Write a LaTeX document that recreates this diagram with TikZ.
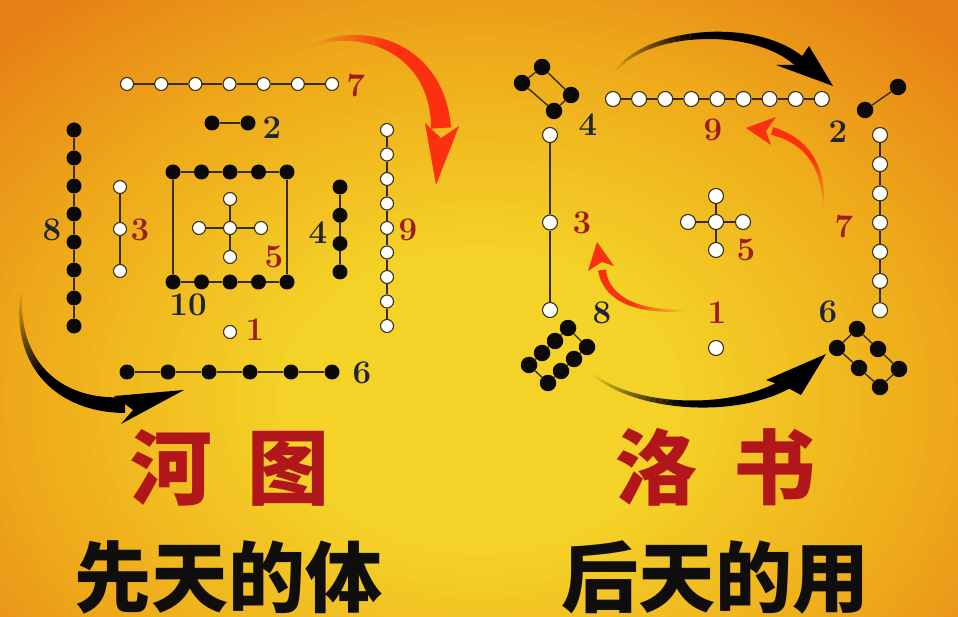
\documentclass[tikz,border=0pt]{standalone}
\usepackage{fontspec}
\newfontfamily\cjk{Noto Sans CJK SC}
\usetikzlibrary{calc}
\definecolor{bgY}{RGB}{244,210,40}
\definecolor{bgO}{RGB}{238,168,26}
\definecolor{bgD}{RGB}{230,128,22}
\definecolor{dotedge}{RGB}{60,48,20}
\definecolor{dotblack}{RGB}{12,10,8}
\definecolor{lnkc}{RGB}{55,45,20}
\definecolor{numred}{RGB}{158,28,32}
\definecolor{numdark}{RGB}{30,36,50}
\definecolor{arrred}{RGB}{250,48,16}
\definecolor{titlered}{RGB}{176,22,26}
\definecolor{titleblack}{RGB}{16,14,12}
\tikzset{
  wA/.style={circle,fill=white,draw=dotedge,line width=1.1pt,minimum size=13pt,inner sep=0pt},
  bA/.style={circle,fill=dotblack,minimum size=15pt,inner sep=0pt},
  wB/.style={wA,minimum size=15pt},
  bB/.style={bA,minimum size=16.5pt},
  lnk/.style={draw=lnkc,line width=1.4pt},
  nR/.style={text=numred,font=\bfseries\fontsize{33}{33}\selectfont,inner sep=0pt},
  nD/.style={nR,text=numdark},
  titleR/.style={text=titlered,font=\cjk\bfseries\fontsize{82}{82}\selectfont,inner sep=0pt},
  titleK/.style={text=titleblack,font=\cjk\bfseries\fontsize{77}{77}\selectfont,inner sep=0pt},
  headfill/.style={fill=#1,draw=none}
}
% tapered, fading arrow body along a cubic curve
\newcommand\tailarrow[6]{%
  \foreach \k [evaluate=\k as \pp using \k/40] in {0,...,40}{%
    \path (#1) .. controls (#2) and (#3) .. (#4) coordinate[pos=\pp] (ta\k);}%
  \foreach \k in {0,...,39}{%
    \pgfmathtruncatemacro\kn{\k+1}%
    \pgfmathsetmacro\hw{(1.5+(#6-1.5)*\k/40)/2}%
    \coordinate (L\k) at ($(ta\k)!\hw pt!90:(ta\kn)$);
    \coordinate (R\k) at ($(ta\k)!\hw pt!-90:(ta\kn)$);}%
  \pgfmathsetmacro\hw{#6/2}%
  \coordinate (L40) at ($(ta40)!\hw pt!-90:(ta39)$);
  \coordinate (R40) at ($(ta40)!\hw pt!90:(ta39)$);
  \foreach \k in {0,...,17}{%
    \pgfmathtruncatemacro\kn{\k+1}%
    \pgfmathsetmacro\op{\k/18}%
    \fill[#5,opacity=\op] (L\k) -- (L\kn) -- (R\kn) -- (R\k) -- cycle;}%
  \fill[#5] (L18) \foreach \k in {19,...,40}{ -- (L\k)} \foreach \k in {40,39,...,18}{ -- (R\k)} -- cycle;
}
\begin{document}
\begin{tikzpicture}[x=1pt,y=-1pt]
\useasboundingbox (0,0) rectangle (958,617);
% background
\begin{scope}
\clip (0,0) rectangle (958,617);
\fill[bgD] (0,0) rectangle (958,617);
\foreach \i in {60,...,1}{%
  \pgfmathsetmacro\f{\i/50}%
  \pgfmathsetmacro\pa{min(100,max(0,(\f-0.7)/0.3*100))}%
  \pgfmathsetmacro\pb{min(100,max(0,(\f-0.3)/0.4*100))}%
  \fill[color=bgD!\pa!bgO!\pb!bgY] (480,400) ellipse [x radius=\f*680, y radius=\f*520];
}
\end{scope}

% ================= HETU (left) =================
% 7 : white row
\foreach \i in {0,...,6} \node[wA] (hs\i) at ({127+\i*34.17},84) {};
\foreach \i [count=\j from 1] in {0,...,5} \draw[lnk] (hs\i) -- (hs\j);
\node[nR] (l7) at (356,86) {7};
% 2
\node[bA] (ht0) at (212,123) {};
\node[bA] (ht1) at (248,123) {};
\draw[lnk] (ht0) -- (ht1);
\node[nD] (l2) at (272,128) {2};
% 8
\foreach \i in {0,...,7} \node[bA] (he\i) at (74,{130+\i*28}) {};
\foreach \i [count=\j from 1] in {0,...,6} \draw[lnk] (he\i) -- (he\j);
\node[nD] (l8) at (52,230) {8};
% 3
\foreach \i in {0,...,2} \node[wA] (hth\i) at (120,{187+\i*42}) {};
\foreach \i [count=\j from 1] in {0,...,1} \draw[lnk] (hth\i) -- (hth\j);
\node[nR] (l3) at (140,230) {3};
% 10 square
\foreach \i in {0,...,4} {
  \node[bA] (hqt\i) at ({173+\i*28.5},172) {};
  \node[bA] (hqb\i) at ({173+\i*28.5},282) {};
}
\foreach \i [count=\j from 1] in {0,...,3} {
  \draw[lnk] (hqt\i) -- (hqt\j);
  \draw[lnk] (hqb\i) -- (hqb\j);
}
\draw[lnk] (hqt0) -- (hqb0);
\draw[lnk] (hqt4) -- (hqb4);
\node[nD] (l10) at (188,305) {10};
% 5 cross
\node[wA] (hc) at (230,228) {};
\node[wA] (hcn) at (230,199) {};
\node[wA] (hcs) at (230,257) {};
\node[wA] (hcw) at (199,228) {};
\node[wA] (hce) at (261,228) {};
\foreach \d in {hcn,hcs,hcw,hce} \draw[lnk] (hc) -- (\d);
\node[nR] (l5) at (274,257) {5};
% 4
\foreach \i in {0,...,3} \node[bA] (hf\i) at (340,{187+\i*28.3}) {};
\foreach \i [count=\j from 1] in {0,...,2} \draw[lnk] (hf\i) -- (hf\j);
\node[nD] (l4) at (318,233) {4};
% 9
\foreach \i in {0,...,8} \node[wA] (hn\i) at (387,{130+\i*24.5}) {};
\foreach \i [count=\j from 1] in {0,...,7} \draw[lnk] (hn\i) -- (hn\j);
\node[nR] (l9) at (408,230) {9};
% 1
\node[wA] (ho) at (230,332) {};
\node[nR] (l1) at (255,330) {1};
% 6
\foreach \i in {0,...,5} \node[bA] (hx\i) at ({127+\i*41},372) {};
\foreach \i [count=\j from 1] in {0,...,4} \draw[lnk] (hx\i) -- (hx\j);
\node[nD] (l6) at (362,373) {6};

% ================= LUOSHU (right) =================
% 9 : white row
\foreach \i in {0,...,8} \node[wB] (ln\i) at ({613+\i*26.1},99) {};
\foreach \i [count=\j from 1] in {0,...,7} \draw[lnk] (ln\i) -- (ln\j);
\node[nR] (m9) at (713,130) {9};
% 2
\node[bB] (lt0) at (865,110) {};
\node[bB] (lt1) at (898,87) {};
\draw[lnk] (lt0) -- (lt1);
\node[nD] (m2) at (838,132) {2};
% 4 quad
\node[bB] (lq1) at (542,67) {};
\node[bB] (lq2) at (522,83) {};
\node[bB] (lq3) at (554,111) {};
\node[bB] (lq4) at (571,95) {};
\draw[lnk] (lq1) -- (lq2);
\draw[lnk] (lq2) -- (lq3);
\draw[lnk] (lq3) -- (lq4);
\draw[lnk] (lq4) -- (lq1);
\node[nD] (m4) at (588,125) {4};
% 3
\foreach \i in {0,...,2} \node[wB] (lth\i) at (550,{135+\i*87.5}) {};
\foreach \i [count=\j from 1] in {0,...,1} \draw[lnk] (lth\i) -- (lth\j);
\node[nR] (m3) at (582,223) {3};
% 7
\foreach \i in {0,...,6} \node[wB] (ls\i) at (880,{135+\i*29.2}) {};
\foreach \i [count=\j from 1] in {0,...,5} \draw[lnk] (ls\i) -- (ls\j);
\node[nR] (m7) at (844,227) {7};
% 5 cross
\node[wB] (lc) at (716,222) {};
\node[wB] (lcn) at (716,196) {};
\node[wB] (lcs) at (716,250) {};
\node[wB] (lcw) at (688,222) {};
\node[wB] (lce) at (743,222) {};
\foreach \d in {lcn,lcs,lcw,lce} \draw[lnk] (lc) -- (\d);
\node[nR] (m5) at (746,250) {5};
% 1
\node[wB] (lo) at (716,348) {};
\node[nR] (m1) at (717,313) {1};
% 8 : two rows of four
\node[bB] (la0) at (568,328) {};
\node[bB] (la1) at (555,341) {};
\node[bB] (la2) at (542,353) {};
\node[bB] (la3) at (529,365) {};
\node[bB] (lb0) at (587,347) {};
\node[bB] (lb1) at (574,359) {};
\node[bB] (lb2) at (561,371) {};
\node[bB] (lb3) at (548,383) {};
\foreach \i [count=\j from 1] in {0,...,2} {
  \draw[lnk] (la\i) -- (la\j);
  \draw[lnk] (lb\i) -- (lb\j);
}
\draw[lnk] (la0) -- (lb0);
\draw[lnk] (la3) -- (lb3);
\node[nD] (m8) at (602,313) {8};
% 6 : two rows of three
\node[bB] (lu0) at (857,329) {};
\node[bB] (lu1) at (878,349) {};
\node[bB] (lu2) at (899,369) {};
\node[bB] (lv0) at (837,348) {};
\node[bB] (lv1) at (859,368) {};
\node[bB] (lv2) at (880,387) {};
\foreach \i [count=\j from 1] in {0,...,1} {
  \draw[lnk] (lu\i) -- (lu\j);
  \draw[lnk] (lv\i) -- (lv\j);
}
\draw[lnk] (lu0) -- (lv0);
\draw[lnk] (lu2) -- (lv2);
\node[nD] (m6) at (828,312) {6};

% ================= ARROWS =================
% left red
\tailarrow{308,47}{365,22}{438,50}{441,128}{arrred}{20}
\coordinate (rA1) at (425,123); \coordinate (rA2) at (436,185);
\coordinate (rA3) at (459,126); \coordinate (rA4) at (441,138);
\fill[headfill=arrred] (rA1) -- (rA2) -- (rA3) -- (rA4) -- cycle;
% left black
\tailarrow{22,288}{12,365}{60,407}{125,405}{black}{16}
\coordinate (kA1) at (114,396); \coordinate (kA2) at (184,390);
\coordinate (kA3) at (121,424); \coordinate (kA4) at (133,410);
\fill[headfill=black] (kA1) -- (kA2) -- (kA3) -- (kA4) -- cycle;
% right top black
\tailarrow{613,74}{645,28}{755,22}{800,62}{black}{12}
\coordinate (kB1) at (809,46); \coordinate (kB2) at (833,86);
\coordinate (kB3) at (776,65); \coordinate (kB4) at (796,65);
\fill[headfill=black] (kB1) -- (kB2) -- (kB3) -- (kB4) -- cycle;
% right bottom black
\tailarrow{590,372}{635,412}{745,415}{795,378}{black}{12}
\coordinate (kC1) at (766,380); \coordinate (kC2) at (826,354);
\coordinate (kC3) at (801,395); \coordinate (kC4) at (788,388);
\fill[headfill=black] (kC1) -- (kC2) -- (kC3) -- (kC4) -- cycle;
% right upper red
\tailarrow{823,212}{826,165}{805,140}{772,131}{arrred}{8}
\coordinate (rB1) at (776,117); \coordinate (rB2) at (746,128);
\coordinate (rB3) at (771,145); \coordinate (rB4) at (766,131);
\fill[headfill=arrred] (rB1) -- (rB2) -- (rB3) -- (rB4) -- cycle;
% right lower red
\tailarrow{690,310}{640,314}{606,300}{602,270}{arrred}{8}
\coordinate (rC1) at (588,271); \coordinate (rC2) at (597,242);
\coordinate (rC3) at (614,266); \coordinate (rC4) at (602,262);
\fill[headfill=arrred] (rC1) -- (rC2) -- (rC3) -- (rC4) -- cycle;

% ================= TITLES =================
\node[titleR] (tHe) at (230,468) {河\kern36pt 图};
\node[titleR] (tLuo) at (715,467) {洛\kern36pt 书};
\node[titleK] (sHe) at (228,577) {先天的体};
\node[titleK] (sLuo) at (715,577) {后天的用};
\end{tikzpicture}
\end{document}
